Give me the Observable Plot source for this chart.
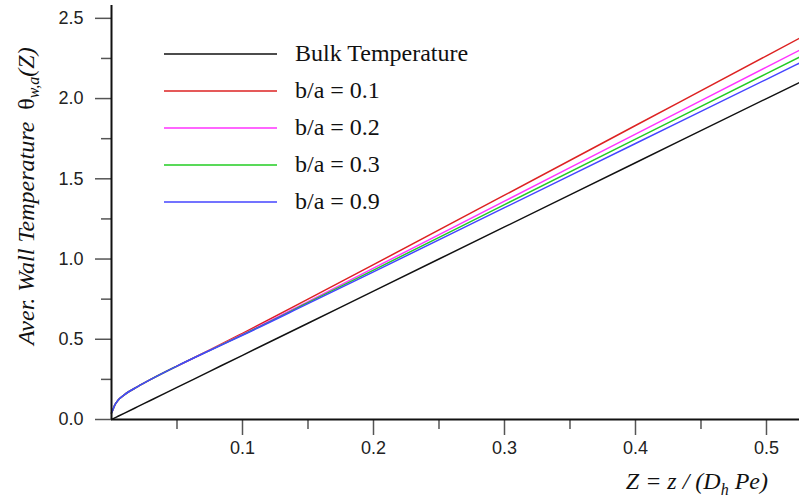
<!DOCTYPE html>
<html>
<head>
<meta charset="utf-8">
<script src="https://cdn.jsdelivr.net/npm/d3@7"></script>
<script src="https://cdn.jsdelivr.net/npm/@observablehq/plot@0.6"></script>
<style>
  html, body { margin: 0; padding: 0; background: #fff; }
  #wrap { position: relative; width: 799px; height: 503px; overflow: hidden; }
  #legend { position: absolute; left: 164px; top: 35px; font-family: "Liberation Serif", "Times New Roman", serif; font-size: 24px; color: #111; }
  .row { display: flex; align-items: center; height: 37px; }
  .row svg { margin-right: 18px; }
  svg text.serif, svg text.serif tspan { font-family: "Liberation Serif", "Times New Roman", serif !important; }
</style>
</head>
<body>
<div id="wrap"></div>
<script>
// Axial coordinate Z = z / (Dh Pe)
const zValues = [0, 0.001, 0.0025, 0.005, 0.01, 0.02, 0.03, 0.05, 0.075, 0.1, 0.15, 0.2, 0.3, 0.4, 0.5, 0.5252];
// Series
const bulk   = [0, 0.004, 0.01, 0.02, 0.04, 0.08, 0.12, 0.20, 0.30, 0.40, 0.60, 0.80, 1.20, 1.60, 2.00, 2.10];
const ba01   = [0.04, 0.06, 0.09, 0.12, 0.155, 0.205, 0.25, 0.333, 0.433, 0.537, 0.750, 0.965, 1.398, 1.832, 2.266, 2.376];
const ba02   = [0.04, 0.06, 0.09, 0.12, 0.155, 0.205, 0.25, 0.333, 0.432, 0.530, 0.735, 0.943, 1.361, 1.778, 2.196, 2.301];
const ba03   = [0.04, 0.06, 0.09, 0.12, 0.155, 0.205, 0.25, 0.333, 0.431, 0.527, 0.728, 0.931, 1.339, 1.747, 2.155, 2.258];
const ba09   = [0.04, 0.06, 0.09, 0.12, 0.155, 0.205, 0.25, 0.333, 0.430, 0.525, 0.722, 0.920, 1.320, 1.720, 2.120, 2.221];

const seriesNames  = ["Bulk Temperature", "b/a = 0.1", "b/a = 0.2", "b/a = 0.3", "b/a = 0.9"];
const seriesValues = [bulk, ba01, ba02, ba03, ba09];
const seriesColors = ["#111111", "#dd2222", "#ff33ff", "#22cc22", "#4444ff"];

const xMajorTicks = [0.1, 0.2, 0.3, 0.4, 0.5];
const xMinorTicks = [0.05, 0.15, 0.25, 0.35, 0.45];
const yMajorTicks = [0, 0.5, 1.0, 1.5, 2.0, 2.5];
const yMinorTicks = [0.25, 0.75, 1.25, 1.75, 2.25];

const rows = [];
seriesNames.forEach((name, i) => {
  zValues.forEach((z, j) => rows.push({series: name, z, theta: seriesValues[i][j]}));
});

const tickFont = {fontFamily: "Liberation Sans, Arial, sans-serif", fontSize: 18};

const plot = Plot.plot({
  width: 799,
  height: 503,
  marginLeft: 111,
  marginRight: 0,
  marginTop: 5,
  marginBottom: 84,
  style: {background: "#fff", color: "#222", fontFamily: "Liberation Sans, Arial, sans-serif", fontSize: "18px"},
  x: {domain: [0, 0.5252]},
  y: {domain: [0, 2.58]},
  color: {domain: seriesNames, range: seriesColors},
  marks: [
    Plot.line(rows, {x: "z", y: "theta", z: "series", stroke: "series", strokeWidth: 1.5, curve: "monotone-x"}),
    Plot.axisX(xMajorTicks, {tickSize: 16, tickPadding: 6, tickFormat: d3.format(".1f"), stroke: "#555", strokeWidth: 1.5, label: null, ...tickFont}),
    Plot.axisX(xMinorTicks, {tickSize: 10, tickFormat: () => "", stroke: "#555", strokeWidth: 1.5, label: null}),
    Plot.axisY(yMajorTicks, {tickSize: 16, tickPadding: 12, tickFormat: d3.format(".1f"), stroke: "#555", strokeWidth: 1.5, label: null, ...tickFont}),
    Plot.axisY(yMinorTicks, {tickSize: 10, tickFormat: () => "", stroke: "#555", strokeWidth: 1.5, label: null}),
    Plot.ruleX([0], {stroke: "#111", strokeWidth: 2}),
    Plot.ruleY([0], {stroke: "#111", strokeWidth: 2})
  ]
});

const wrap = document.getElementById("wrap");
wrap.appendChild(plot);

// Axis titles
const svg = d3.select(plot);

const yl = svg.append("text")
  .attr("class", "serif")
  .attr("transform", "translate(34,345) rotate(-90)")
  .attr("font-size", 24).attr("fill", "#111")
  .attr("text-anchor", "start");
yl.append("tspan").attr("font-style", "italic").text("Aver. Wall Temperature\u00a0\u00a0");
yl.append("tspan").text("\u03b8");
yl.append("tspan").attr("font-style", "italic").attr("font-size", 16).attr("dy", 5).text("w,a");
yl.append("tspan").attr("font-style", "italic").attr("dy", -5).text("(Z)");

const xl = svg.append("text")
  .attr("class", "serif")
  .attr("x", 768).attr("y", 489)
  .attr("font-size", 24).attr("fill", "#111")
  .attr("font-style", "italic").attr("text-anchor", "end");
xl.append("tspan").text("Z = z / (D");
xl.append("tspan").attr("font-size", 16).attr("dy", 6).text("h");
xl.append("tspan").attr("dy", -6).text(" Pe)");

// Legend
const legend = document.createElement("div");
legend.id = "legend";
seriesNames.forEach((name, i) => {
  const row = document.createElement("div");
  row.className = "row";
  row.innerHTML = `<svg width="113" height="4"><line x1="0" x2="113" y1="2" y2="2" stroke="${seriesColors[i]}" stroke-width="1.5"/></svg><span>${name}</span>`;
  legend.appendChild(row);
});
wrap.appendChild(legend);
</script>
</body>
</html>
